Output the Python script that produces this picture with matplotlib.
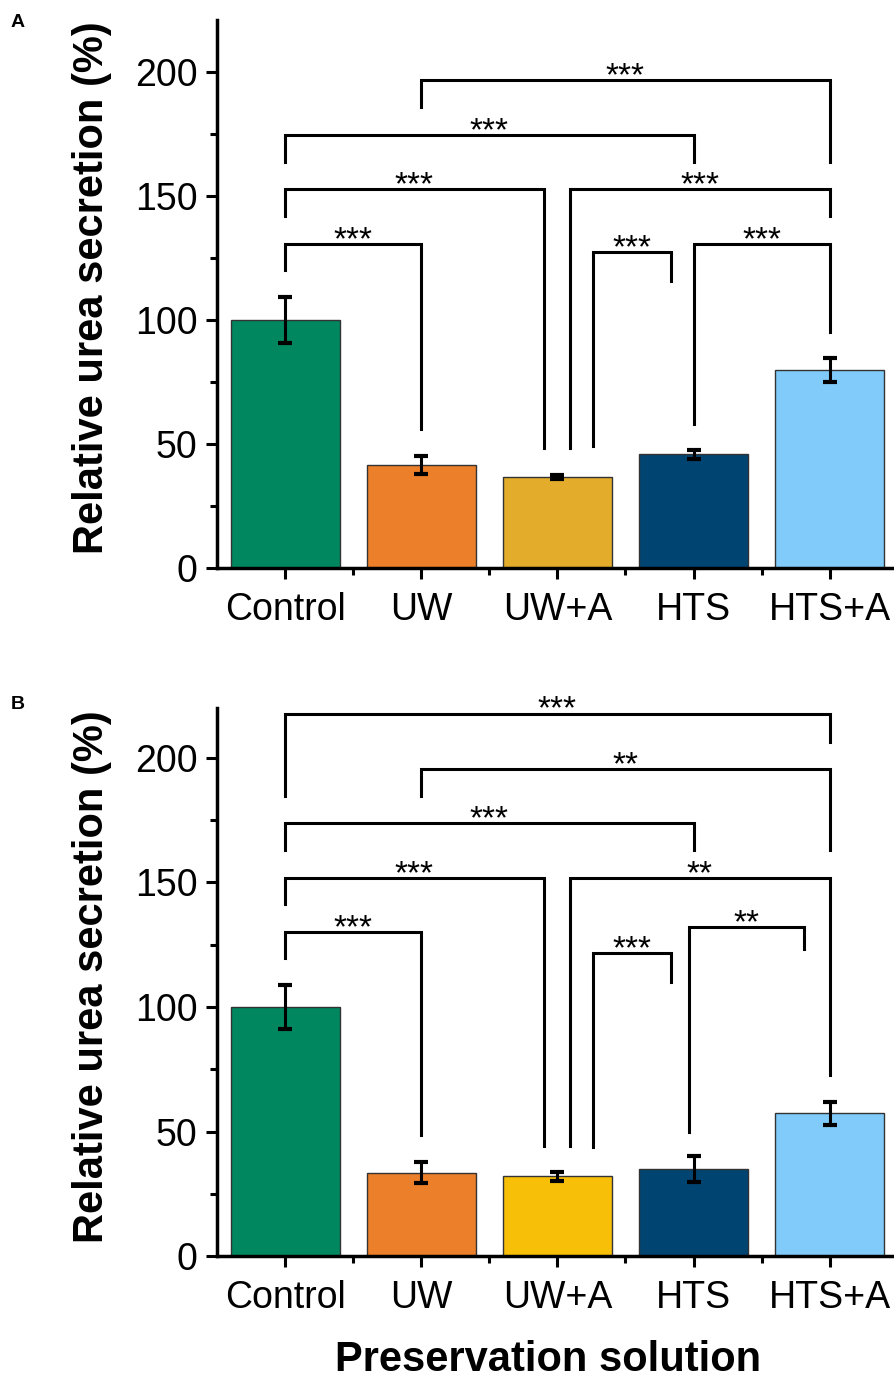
import numpy as np
import matplotlib
matplotlib.use('Agg')
import matplotlib.pyplot as plt
import matplotlib.ticker as ticker

plt.rcParams['font.family'] = ['Liberation Sans', 'DejaVu Sans']

groups = ['Control', 'UW', 'UW+A', 'HTS', 'HTS+A']

# panel A
urea_a = [100.0, 41.5, 36.5, 45.8, 79.8]
err_a = [9.2, 3.5, 0.8, 1.7, 4.8]
colors_a = ['#00875F', '#EC7F2A', '#E3AC2B', '#004471', '#80CBFA']
# (x left, x right, bracket top, left leg end, right leg end, label)
sig_a = [
    (1.0, 4.0, 196.8, 186.0, 163.7, '***'),
    (0.0, 3.0, 174.6, 163.7, 163.7, '***'),
    (0.0, 1.9, 152.8, 142.0, 48.4, '***'),
    (2.095, 4.0, 152.8, 48.4, 142.0, '***'),
    (0.0, 1.0, 130.6, 120.0, 56.0, '***'),
    (2.26, 2.835, 127.4, 49.2, 115.7, '***'),
    (3.0, 4.0, 130.6, 58.0, 95.0, '***'),
]

# panel B
urea_b = [100.0, 33.5, 32.0, 35.0, 57.3]
err_b = [8.8, 4.3, 1.8, 5.3, 4.6]
colors_b = ['#00875F', '#EC7F2A', '#F8BF08', '#004471', '#80CBFA']
sig_b = [
    (0.0, 4.0, 217.7, 184.7, 206.4, '***'),
    (1.0, 4.0, 195.6, 184.7, 163.0, '**'),
    (0.0, 3.0, 173.9, 163.0, 163.0, '***'),
    (0.0, 1.9, 151.8, 141.4, 44.2, '***'),
    (2.095, 4.0, 151.8, 44.2, 72.7, '**'),
    (0.0, 1.0, 130.0, 119.7, 48.6, '***'),
    (2.26, 2.835, 121.7, 43.8, 110.0, '***'),
    (2.97, 3.81, 132.0, 49.8, 123.3, '**'),
]


def draw_panel(ax, vals, errs, colors, sigs, ytop):
    x = np.arange(len(groups))
    ax.bar(x, vals, width=0.8, color=colors, edgecolor='#333333', linewidth=1.0, zorder=2)
    ax.errorbar(x, vals, yerr=errs, fmt='none', ecolor='black', elinewidth=2.2,
                capsize=5, capthick=3, zorder=3)
    for x1, x2, yt, yl, yr, lab in sigs:
        ax.plot([x1, x1, x2, x2], [yl, yt, yt, yr], color='black', lw=2.2,
                solid_joinstyle='miter', zorder=4)
        # asterisks sit high in the font, so anchor the baseline just under the line
        ax.text((x1 + x2) / 2, yt - 2.0, lab, ha='center', va='baseline', fontsize=24)

    ax.set_xlim(-0.5, 4.48)
    ax.set_ylim(0, ytop)
    ax.set_xticks(x)
    ax.set_xticklabels(groups)
    ax.xaxis.set_minor_locator(ticker.FixedLocator(x[:-1] + 0.5))
    ax.yaxis.set_major_locator(ticker.MultipleLocator(50))
    ax.yaxis.set_minor_locator(ticker.MultipleLocator(25))
    ax.tick_params(which='major', direction='out', length=8, width=2.2, labelsize=27, pad=6)
    ax.tick_params(axis='x', which='major', pad=9)
    ax.tick_params(which='minor', direction='out', length=5, width=2.2)
    for s in ['top', 'right']:
        ax.spines[s].set_visible(False)
    for s in ['left', 'bottom']:
        ax.spines[s].set_linewidth(2.5)


fig = plt.figure(figsize=(8.95, 13.85), dpi=100)
ax_a = fig.add_axes([0.2425, 0.5899, 0.7575, 0.3957])
ax_b = fig.add_axes([0.2425, 0.0931, 0.7575, 0.3957])

draw_panel(ax_a, urea_a, err_a, colors_a, sig_a, 221)
draw_panel(ax_b, urea_b, err_b, colors_b, sig_b, 220)

fig.text(92 / 895, 0.792, 'Relative urea secretion (%)', rotation=90, ha='center', va='center',
         fontsize=30, fontweight='bold')
fig.text(92 / 895, 0.2946, 'Relative urea secretion (%)', rotation=90, ha='center', va='center',
         fontsize=30, fontweight='bold')
fig.text(548 / 895, 0.018, 'Preservation solution', ha='center', va='center',
         fontsize=30, fontweight='bold')
fig.text(0.012, 0.984, 'A', ha='left', va='center', fontsize=14, fontweight='bold')
fig.text(0.012, 0.491, 'B', ha='left', va='center', fontsize=14, fontweight='bold')

fig.savefig('out.png', dpi=100)
